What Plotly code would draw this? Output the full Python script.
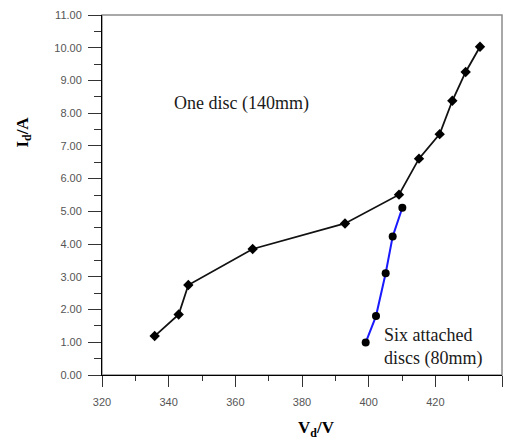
import plotly.graph_objects as go

# Data
one_disc_v = [335.8, 343.0, 345.9, 365.2, 392.9, 409.1, 415.1, 421.3, 425.1, 429.1, 433.4]
one_disc_i = [1.19, 1.85, 2.75, 3.85, 4.63, 5.51, 6.61, 7.36, 8.38, 9.26, 10.03]

six_discs_v = [399.1, 402.2, 405.1, 407.2, 410.1]
six_discs_i = [0.99, 1.80, 3.11, 4.23, 5.11]

x_range = [320, 440]
y_range = [0, 11]

serif = "Liberation Serif, Times New Roman, serif"
sans = "Liberation Sans, Arial, sans-serif"

fig = go.Figure()
fig.add_trace(go.Scatter(
    x=one_disc_v, y=one_disc_i, mode="lines+markers",
    line=dict(color="#111111", width=1.8),
    marker=dict(symbol="diamond", size=8, color="#000000"),
    name="One disc (140mm)", showlegend=False))
fig.add_trace(go.Scatter(
    x=six_discs_v, y=six_discs_i, mode="lines+markers",
    line=dict(color="#1a1aff", width=2),
    marker=dict(symbol="circle", size=8, color="#000000"),
    name="Six attached discs (80mm)", showlegend=False))

axis_common = dict(
    showgrid=False, zeroline=False, showline=True, linecolor="#000000",
    linewidth=1, ticks="outside", tickcolor="#333333", tickwidth=1,
    tickfont=dict(family=sans, size=11, color="#555555"),
)

fig.update_xaxes(range=x_range, dtick=20, tick0=320, ticklen=11,
                 minor=dict(ticks="outside", dtick=10, ticklen=5, tickcolor="#333333"),
                 ticklabelstandoff=6, **axis_common)
fig.update_yaxes(range=y_range, dtick=1, tick0=0, ticklen=13, tickformat=".2f",
                 minor=dict(ticks="outside", dtick=0.5, ticklen=7, tickcolor="#333333"),
                 ticklabelstandoff=4, **axis_common)

# gray frame (top and right)
fig.add_shape(type="rect", xref="paper", yref="paper", x0=0, y0=0, x1=1, y1=1,
              line=dict(color="#8c8c8c", width=1.5), layer="below")

fig.add_annotation(x=341.1, y=8.31, xref="x", yref="y", text="One disc (140mm)",
                   showarrow=False, xanchor="left", yanchor="middle",
                   font=dict(family=serif, size=18, color="#1a1a1a"))
fig.add_annotation(x=404.0, y=0.85, xref="x", yref="y",
                   text="Six attached<br>discs (80mm)", align="left",
                   showarrow=False, xanchor="left", yanchor="middle",
                   font=dict(family=serif, size=18, color="#1a1a1a"))

fig.add_annotation(x=-0.196, y=0.675, xref="paper", yref="paper",
                   text="<b>I<sub>d</sub>/A</b>", textangle=-90, showarrow=False,
                   xanchor="center", yanchor="middle",
                   font=dict(family=serif, size=17, color="#000000"))
fig.add_annotation(x=0.537, y=-0.15, xref="paper", yref="paper",
                   text="<b>V<sub>d</sub>/V</b>", showarrow=False,
                   xanchor="center", yanchor="middle",
                   font=dict(family=serif, size=17, color="#000000"))

fig.update_layout(
    width=507, height=441,
    margin=dict(l=102, r=5, t=15, b=66),
    plot_bgcolor="white", paper_bgcolor="white",
)

fig.write_html("out.html")
